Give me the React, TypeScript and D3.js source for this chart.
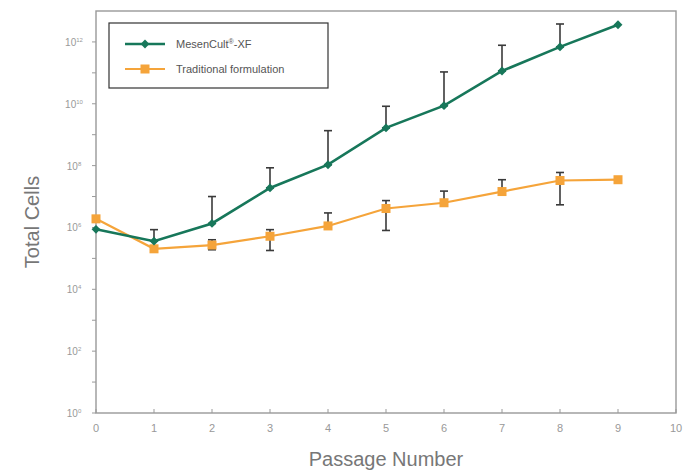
import { useEffect, useRef } from "react";
import * as d3 from "d3";

// passage numbers and cell counts
const passages = [0, 1, 2, 3, 4, 5, 6, 7, 8, 9];
const mesenCult = [8.7e5, 3.6e5, 1.35e6, 1.9e7, 1.07e8, 1.66e9, 8.7e9, 1.15e11, 6.9e11, 3.6e12];
const mesenUpper = [null, 8.5e5, 1e7, 8.5e7, 1.35e9, 8.3e9, 1.07e11, 7.8e11, 3.8e12, null];
const traditional = [1.9e6, 2.04e5, 2.7e5, 5.2e5, 1.12e6, 4.1e6, 6.3e6, 1.45e7, 3.3e7, 3.5e7];
const tradUpper = [null, null, 4e5, 8.5e5, 2.95e6, 7.4e6, 1.5e7, 3.5e7, 6e7, null];
const tradLower = [null, null, 1.9e5, 1.8e5, null, 8e5, null, null, 5.4e6, null];
const xTicks = [0, 1, 2, 3, 4, 5, 6, 7, 8, 9, 10];
const yExps = [0, 2, 4, 6, 8, 10, 12];
const yMinorExps = [1, 3, 5, 7, 9, 11];

const GREEN = "#17775a";
const ORANGE = "#f5a43a";
const FONT = "Liberation Sans, Arial, sans-serif";

const App = () => {
  const svgRef = useRef<SVGSVGElement>(null);

  useEffect(() => {
    const svg = d3.select(svgRef.current);
    svg.selectAll("*").remove();

    const left = 96, right = 676, top = 11, bottom = 413;
    const x = d3.scaleLinear().domain([0, 10]).range([left, right]);
    const y = d3.scaleLog().domain([1, 1e13]).range([bottom, top]);

    // frame
    svg.append("rect")
      .attr("x", left).attr("y", top)
      .attr("width", right - left).attr("height", bottom - top)
      .attr("fill", "none").attr("stroke", "#999").attr("stroke-width", 1.4);

    // y ticks
    const yAxis = svg.append("g").attr("font-family", FONT).attr("fill", "#999");
    [...yExps, ...yMinorExps].forEach((e) => {
      yAxis.append("line")
        .attr("x1", left - 4).attr("x2", left)
        .attr("y1", y(Math.pow(10, e))).attr("y2", y(Math.pow(10, e)))
        .attr("stroke", "#999").attr("stroke-width", 1);
    });
    yExps.forEach((e) => {
      const t = yAxis.append("text")
        .attr("x", 74).attr("y", y(Math.pow(10, e)) + 4)
        .attr("text-anchor", "middle").attr("font-size", 10);
      t.append("tspan").text("10");
      t.append("tspan").attr("dy", -4).attr("font-size", 6).text(String(e));
    });

    // x ticks
    xTicks.forEach((v) => {
      svg.append("line")
        .attr("x1", x(v)).attr("x2", x(v))
        .attr("y1", bottom).attr("y2", bottom - 4)
        .attr("stroke", "#999");
      svg.append("text")
        .attr("x", x(v)).attr("y", bottom + 19)
        .attr("text-anchor", "middle").attr("font-size", 11)
        .attr("font-family", FONT)
        .attr("fill", "#999").text(String(v));
    });

    // axis titles
    svg.append("text")
      .attr("x", (left + right) / 2).attr("y", 466)
      .attr("text-anchor", "middle").attr("font-size", 20)
      .attr("font-family", FONT)
      .attr("fill", "#777").text("Passage Number");
    svg.append("text")
      .attr("transform", `translate(39, ${(top + bottom) / 2 + 10}) rotate(-90)`)
      .attr("text-anchor", "middle").attr("font-size", 20)
      .attr("font-family", FONT)
      .attr("fill", "#777").text("Total Cells");

    // error bars
    const errBar = (i: number, lo: number, hi: number) => {
      const g = svg.append("g").attr("stroke", "#3a3a3a").attr("stroke-width", 1.6);
      g.append("line").attr("x1", x(passages[i])).attr("x2", x(passages[i])).attr("y1", y(lo)).attr("y2", y(hi));
      g.append("line").attr("x1", x(passages[i]) - 4).attr("x2", x(passages[i]) + 4).attr("y1", y(hi)).attr("y2", y(hi));
      g.append("line").attr("x1", x(passages[i]) - 4).attr("x2", x(passages[i]) + 4).attr("y1", y(lo)).attr("y2", y(lo));
    };
    passages.forEach((_, i) => {
      if (mesenUpper[i] != null) errBar(i, mesenCult[i], mesenUpper[i] as number);
      const hi = tradUpper[i] ?? traditional[i];
      const lo = tradLower[i] ?? traditional[i];
      if (tradUpper[i] != null || tradLower[i] != null) errBar(i, lo, hi);
    });

    const line = (vals: number[]) =>
      d3.line<number>().x((_, i) => x(passages[i])).y((d) => y(d))(vals);

    // traditional series
    svg.append("path").attr("d", line(traditional)).attr("fill", "none")
      .attr("stroke", ORANGE).attr("stroke-width", 2.2);
    svg.selectAll(".sq").data(traditional).join("rect")
      .attr("x", (_, i) => x(passages[i]) - 4.5).attr("y", (d) => y(d) - 4.5)
      .attr("width", 9).attr("height", 9).attr("fill", ORANGE);

    // MesenCult series
    svg.append("path").attr("d", line(mesenCult)).attr("fill", "none")
      .attr("stroke", GREEN).attr("stroke-width", 2.6);
    const diamond = d3.symbol().type(d3.symbolDiamond2).size(50);
    svg.selectAll(".dm").data(mesenCult).join("path")
      .attr("d", diamond)
      .attr("transform", (d, i) => `translate(${x(passages[i])},${y(d)})`)
      .attr("fill", GREEN);

    // legend
    const lg = svg.append("g").attr("font-family", FONT);
    lg.append("rect").attr("x", 109).attr("y", 23).attr("width", 219).attr("height", 65)
      .attr("fill", "white").attr("stroke", "#333").attr("stroke-width", 1.2);
    lg.append("line").attr("x1", 125).attr("x2", 165).attr("y1", 44).attr("y2", 44)
      .attr("stroke", GREEN).attr("stroke-width", 2.6);
    lg.append("path").attr("d", diamond).attr("transform", "translate(145,44)").attr("fill", GREEN);
    lg.append("line").attr("x1", 125).attr("x2", 165).attr("y1", 69).attr("y2", 69)
      .attr("stroke", ORANGE).attr("stroke-width", 2.2);
    lg.append("rect").attr("x", 140.5).attr("y", 64.5).attr("width", 9).attr("height", 9).attr("fill", ORANGE);
    const t1 = lg.append("text").attr("x", 176).attr("y", 48).attr("font-size", 11).attr("fill", "#555");
    t1.append("tspan").text("MesenCult");
    t1.append("tspan").attr("dy", -4).attr("font-size", 7).text("®");
    t1.append("tspan").attr("dy", 4).text("-XF");
    lg.append("text").attr("x", 176).attr("y", 73).attr("font-size", 11).attr("fill", "#555")
      .text("Traditional formulation");
  }, []);

  return (
    <svg
      ref={svgRef}
      width={683}
      height={472}
      style={{ position: "absolute", left: 0, top: 0, background: "white" }}
    />
  );
};

export default App;
